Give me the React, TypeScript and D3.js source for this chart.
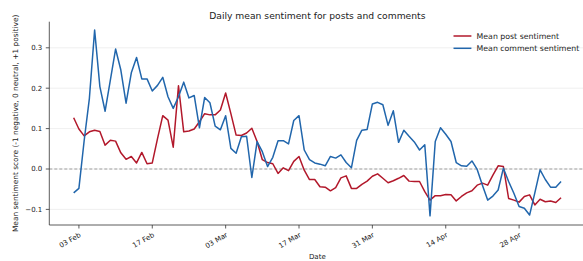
import React from "react";
import * as d3 from "d3";

const START_DATE = "2025-02-02";
const postSentiment = [
  0.127, 0.099, 0.082, 0.092, 0.096, 0.093, 0.059, 0.071, 0.069, 0.040,
  0.024, 0.031, 0.015, 0.041, 0.013, 0.015, 0.075, 0.132, 0.121, 0.054,
  0.206, 0.092, 0.094, 0.099, 0.117, 0.137, 0.134, 0.134, 0.146, 0.188,
  0.137, 0.084, 0.083, 0.089, 0.101, 0.068, 0.023, 0.016, 0.013, -0.011,
  0.003, -0.004, 0.019, 0.031, -0.003, -0.026, -0.026, -0.044, -0.045, -0.054,
  -0.046, -0.022, -0.017, -0.048, -0.048, -0.038, -0.030, -0.018, -0.012, -0.023,
  -0.034, -0.029, -0.023, -0.016, -0.030, -0.031, -0.031, -0.056, -0.077, -0.066,
  -0.066, -0.063, -0.064, -0.079, -0.068, -0.059, -0.054, -0.040, -0.035, -0.040,
  -0.015, 0.008, 0.006, -0.073, -0.077, -0.082, -0.068, -0.064, -0.089, -0.075,
  -0.081, -0.079, -0.083, -0.071,
];
const commentSentiment = [
  -0.059, -0.048, 0.07, 0.175, 0.344, 0.204, 0.143, 0.22, 0.297, 0.245,
  0.163, 0.238, 0.276, 0.223, 0.223, 0.193, 0.207, 0.227, 0.179, 0.150,
  0.179, 0.215, 0.176, 0.182, 0.102, 0.177, 0.164, 0.106, 0.097, 0.132,
  0.051, 0.039, 0.080, 0.081, -0.021, 0.068, 0.043, 0.006, 0.029, 0.070,
  0.070, 0.062, 0.120, 0.132, 0.047, 0.023, 0.015, 0.012, 0.008, 0.031,
  0.027, 0.035, 0.016, 0.003, 0.071, 0.096, 0.098, 0.161, 0.165, 0.159,
  0.108, 0.144, 0.066, 0.096, 0.081, 0.067, 0.047, 0.060, -0.116, 0.068,
  0.102, 0.086, 0.068, 0.016, 0.008, 0.007, 0.020, -0.001, -0.040, -0.077,
  -0.067, -0.052, 0.002, -0.031, -0.060, -0.093, -0.097, -0.114, -0.059, -0.002,
  -0.026, -0.045, -0.045, -0.031,
];
const xTickDates = ["2025-02-03", "2025-02-17", "2025-03-03", "2025-03-17", "2025-03-31", "2025-04-14", "2025-04-28"];
const yTicks = [-0.1, 0.0, 0.1, 0.2, 0.3];
const seriesNames = ["Mean post sentiment", "Mean comment sentiment"];
const seriesColors = ["#b2182b", "#2166ac"];

const W = 583;
const H = 261;
const FONT = "DejaVu Sans, sans-serif";

function parse(s: string) {
  const [y, m, d] = s.split("-").map(Number);
  return new Date(y, m - 1, d);
}

export default function App() {
  const start = parse(START_DATE);
  const dates = postSentiment.map((_, i) => d3.timeDay.offset(start, i));
  const first = dates[0];
  const last = dates[dates.length - 1];
  const spanMs = last.getTime() - first.getTime();
  const pad = spanMs * 0.05;

  const left = 49.3;
  const right = 585.4;
  const top = 21.7;
  const bottom = 225;

  const x = d3
    .scaleTime()
    .domain([new Date(first.getTime() - pad), new Date(last.getTime() + pad)])
    .range([left, right]);
  const y = d3.scaleLinear().domain([-0.1386, 0.3646]).range([bottom, top]);

  const line = d3
    .line<number>()
    .x((_, i) => x(dates[i]))
    .y((v) => y(v));

  const fmtY = (v: number) => (v < 0 ? "\u2212" : "") + Math.abs(v).toFixed(1);
  const fmtX = d3.timeFormat("%d %b");

  return (
    <svg width={W} height={H} style={{ position: "absolute", left: 0, top: 0, background: "#fff" }} fontFamily={FONT}>
      {yTicks.map((t) => (
        <line key={"g" + t} x1={left} x2={right} y1={y(t)} y2={y(t)} stroke="#ebebeb" strokeWidth={0.8} />
      ))}
      <line x1={left} x2={right} y1={y(0)} y2={y(0)} stroke="#888" strokeWidth={0.8} strokeDasharray="3,2" />
      {[postSentiment, commentSentiment].map((s, k) => (
        <path key={k} d={line(s) || ""} fill="none" stroke={seriesColors[k]} strokeWidth={1.5} strokeLinejoin="round" />
      ))}
      <line x1={left} x2={left} y1={top} y2={bottom} stroke="#333" strokeWidth={0.8} />
      <line x1={left} x2={right} y1={bottom} y2={bottom} stroke="#333" strokeWidth={0.8} />
      {yTicks.map((t) => (
        <g key={"y" + t}>
          <line x1={left - 3.5} x2={left} y1={y(t)} y2={y(t)} stroke="#333" strokeWidth={0.8} />
          <text x={left - 7} y={y(t)} dy="0.35em" textAnchor="end" fontSize={7} fill="#222">
            {fmtY(t)}
          </text>
        </g>
      ))}
      {xTickDates.map((s) => {
        const d = parse(s);
        const px = x(d);
        return (
          <g key={s}>
            <line x1={px} x2={px} y1={bottom} y2={bottom + 3.5} stroke="#333" strokeWidth={0.8} />
            <text
              transform={`translate(${px},${bottom + 7}) rotate(-30)`}
              textAnchor="end"
              dy="0.7em"
              fontSize={7}
              fill="#222"
            >
              {fmtX(d)}
            </text>
          </g>
        );
      })}
      <text x={(left + right) / 2} y={259} textAnchor="middle" fontSize={7} fill="#222">
        Date
      </text>
      <text
        transform={`translate(15.5,${(top + bottom) / 2}) rotate(-90)`}
        textAnchor="middle"
        dy="0.35em"
        fontSize={7.4}
        fill="#222"
      >
        Mean sentiment score (-1 negative, 0 neutral, +1 positive)
      </text>
      <text x={(left + right) / 2} y={15.6} dy="0.35em" textAnchor="middle" fontSize={9.2} fill="#222">
        Daily mean sentiment for posts and comments
      </text>
      {seriesNames.map((n, k) => {
        const ly = 36 + k * 12.3;
        return (
          <g key={n}>
            <line x1={453.5} x2={471.4} y1={ly} y2={ly} stroke={seriesColors[k]} strokeWidth={1.5} />
            <text x={476.6} y={ly} dy="0.35em" fontSize={7.8} fill="#222">
              {n}
            </text>
          </g>
        );
      })}
    </svg>
  );
}
